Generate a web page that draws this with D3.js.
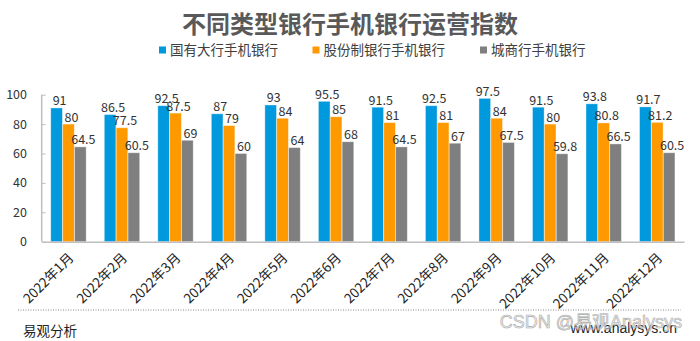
<!DOCTYPE html>
<html><head><meta charset="utf-8">
<script src="https://cdn.jsdelivr.net/npm/d3@7"></script>
<style>body{margin:0;background:#fff}svg{display:block}</style>
</head><body>
<svg id="c" width="700" height="341"></svg>
<script>
const months = ["2022年1月","2022年2月","2022年3月","2022年4月","2022年5月","2022年6月","2022年7月","2022年8月","2022年9月","2022年10月","2022年11月","2022年12月"];
const seriesNames = ["国有大行手机银行","股份制银行手机银行","城商行手机银行"];
const bigBanks = [91,86.5,92.5,87,93,95.5,91.5,92.5,97.5,91.5,93.8,91.7];
const jointStock = [80,77.5,87.5,79,84,85,81,81,84,80,80.8,81.2];
const cityBanks = [64.5,60.5,69,60,64,68,64.5,67,67.5,59.8,66.5,60.5];
const yTicks = [0,20,40,60,80,100];
const colors = ["#0099DD","#FF9900","#7F7F7F"];

(function(){
const svg = d3.select("#c");
const font = "'Noto Sans CJK SC','Noto Sans',sans-serif";
const pLeft = 41.7, pRight = 684, pTop = 94.7, pBase = 241.7;

const x = d3.scaleBand().domain(months).range([pLeft, pRight]).paddingInner(0.33).paddingOuter(0.165);
const xs = d3.scaleBand().domain(d3.range(3)).range([0, x.bandwidth()]).padding(0.02);
const y = d3.scaleLinear().domain([0,100]).range([pBase, pTop]);

svg.append("text").attr("x",350).attr("y",33).attr("text-anchor","middle")
  .attr("font-family",font).attr("font-size",24).attr("font-weight","bold").attr("fill","#595959")
  .text("不同类型银行手机银行运营指数");

const legX = [159, 312.5, 480];
seriesNames.forEach((n,i)=>{
  svg.append("rect").attr("x",legX[i]).attr("y",46.5).attr("width",7).attr("height",7).attr("fill",colors[i]);
  svg.append("text").attr("x",legX[i]+11).attr("y",55).attr("font-family",font).attr("font-size",13.5)
    .attr("fill","#404040").text(n);
});

const yAxis = svg.append("g").attr("transform",`translate(${pLeft},0)`)
  .call(d3.axisRight(y).tickValues(yTicks).tickSize(4).tickFormat(""));
yAxis.select(".domain").attr("stroke","#bfbfbf").attr("stroke-width",1.5).attr("d",`M0,${pTop}V${pBase}`);
yAxis.selectAll(".tick line").attr("stroke","#bfbfbf").attr("stroke-width",1);
yTicks.forEach(t=>{
  svg.append("text").attr("x",27).attr("y",y(t)+4.5).attr("text-anchor","end")
    .attr("font-family",font).attr("font-size",12.5).attr("fill","#333").text(t);
});

const data = [bigBanks, jointStock, cityBanks];
data.forEach((vals,si)=>{
  const g = svg.append("g");
  g.selectAll("rect").data(vals).join("rect")
    .attr("x",(d,i)=>x(months[i])+xs(si)).attr("width",xs.bandwidth())
    .attr("y",d=>y(d)).attr("height",d=>pBase-y(d))
    .attr("fill",colors[si]).attr("stroke","#fff").attr("stroke-opacity",0.45).attr("stroke-width",0.8);
  g.selectAll("text").data(vals).join("text")
    .attr("x",(d,i)=>x(months[i])+xs(si)+xs.bandwidth()/2+3)
    .attr("y",d=>y(d)-2.5).attr("text-anchor","middle")
    .attr("font-family",font).attr("font-size",12.5).attr("fill","#333").text(d=>d);
});

const xAxis = svg.append("g").attr("transform",`translate(0,${pBase})`)
  .call(d3.axisBottom(x).tickSize(0).tickFormat(""));
xAxis.select(".domain").attr("stroke","#bfbfbf").attr("stroke-width",1.5);
months.forEach(m=>{
  const cx = x(m)+x.bandwidth()/2;
  svg.append("text").attr("transform",`translate(${cx+6},${pBase+17}) rotate(-45)`)
    .attr("text-anchor","end").attr("font-family",font).attr("font-size",13.5).attr("fill","#222").text(m);
});

svg.append("line").attr("x1",18).attr("x2",681).attr("y1",310).attr("y2",310)
  .attr("stroke","#888").attr("stroke-width",1).attr("stroke-dasharray","1,1.5");
svg.append("text").attr("x",23).attr("y",336).attr("font-family",font).attr("font-size",13.5)
  .attr("fill","#222").text("易观分析");
svg.append("text").attr("x",677).attr("y",333).attr("text-anchor","end").attr("font-family","'Liberation Sans',Arial,sans-serif")
  .attr("font-size",14).attr("fill","#222").text("www.analysys.cn");
svg.append("text").attr("x",682).attr("y",328).attr("text-anchor","end").attr("font-family","'Liberation Sans',Arial,sans-serif")
  .attr("font-size",18).attr("fill","#e0e0e0").attr("stroke","#aaa").attr("stroke-width",0.6).attr("fill-opacity",0.6)
  .text("CSDN @易观Analysys");
})();
</script>
</body></html>
